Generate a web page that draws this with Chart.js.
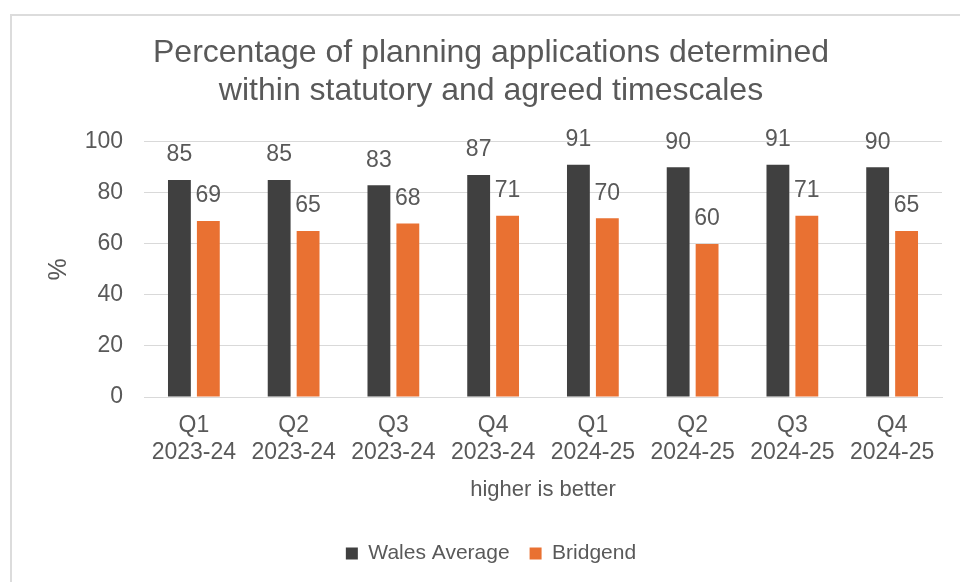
<!DOCTYPE html>
<html>
<head>
<meta charset="utf-8">
<script src="https://cdn.jsdelivr.net/npm/chart.js@4/dist/chart.umd.min.js"></script>
<style>
  html, body { margin: 0; padding: 0; background: #fff; overflow: hidden; }
  #wrap { position: relative; width: 960px; height: 582px; }
  #frame { position: absolute; left: 10px; top: 14px; width: 1000px; height: 700px;
           border-left: 2px solid #dcdcdc; border-top: 2px solid #dcdcdc; pointer-events: none; }
  canvas { position: absolute; left: 0; top: 0; }
</style>
</head>
<body>
<div id="wrap">
  <canvas id="c" width="960" height="582"></canvas>
  <div id="frame"></div>
</div>
<script>
const chartTitle = ["Percentage of planning applications determined", "within statutory and agreed timescales"];
const categories = [
  ["Q1", "2023-24"], ["Q2", "2023-24"], ["Q3", "2023-24"], ["Q4", "2023-24"],
  ["Q1", "2024-25"], ["Q2", "2024-25"], ["Q3", "2024-25"], ["Q4", "2024-25"]
];
const walesAverage = [85, 85, 83, 87, 91, 90, 91, 90];
const bridgend = [69, 65, 68, 71, 70, 60, 71, 65];
const yTicks = [0, 20, 40, 60, 80, 100];
const yAxisTitle = "%";
const xAxisTitle = "higher is better";

const FONT = "'Liberation Sans', Arial, sans-serif";
const TEXT = "#595959";
Chart.defaults.font.family = FONT;
Chart.defaults.color = TEXT;

const dataLabels = {
  id: 'dataLabels',
  afterDatasetsDraw(chart) {
    const ctx = chart.ctx;
    ctx.save();
    ctx.font = "23px " + FONT;
    ctx.fillStyle = TEXT;
    ctx.textAlign = 'center';
    ctx.textBaseline = 'middle';
    chart.data.datasets.forEach((ds, i) => {
      const meta = chart.getDatasetMeta(i);
      meta.data.forEach((el, j) => {
        ctx.fillText(String(ds.data[j]), el.x, el.y - 25);
      });
    });
    ctx.restore();
  }
};

new Chart(document.getElementById('c'), {
  type: 'bar',
  data: {
    labels: categories,
    datasets: [
      { label: 'Wales Average', data: walesAverage, backgroundColor: '#404040',
        categoryPercentage: 0.58, barPercentage: 0.79 },
      { label: 'Bridgend', data: bridgend, backgroundColor: '#E97132',
        categoryPercentage: 0.58, barPercentage: 0.79 }
    ]
  },
  options: {
    responsive: false,
    animation: false,
    devicePixelRatio: 1,
    layout: { padding: { left: 40, right: 18, top: 0, bottom: 8 } },
    plugins: {
      title: {
        display: true,
        text: chartTitle,
        color: TEXT,
        font: { size: 32, weight: 'normal', lineHeight: 1.2 },
        padding: { top: 34, bottom: 31 }
      },
      legend: {
        position: 'bottom',
        labels: {
          boxWidth: 12, boxHeight: 12, padding: 20,
          color: TEXT,
          font: { size: 21 }
        }
      },
      tooltip: { enabled: false }
    },
    scales: {
      x: {
        grid: { display: false, drawTicks: false },
        border: { display: true, color: '#d9d9d9', width: 1 },
        ticks: { color: TEXT, font: { size: 23, lineHeight: 1.17 }, padding: 15.5, maxRotation: 0 },
        title: { display: true, text: xAxisTitle, color: TEXT,
                 font: { size: 22, lineHeight: 1.2 }, padding: { top: 0, bottom: 20 } },
        afterFit(scale) { scale.height = 126; }
      },
      y: {
        min: 0, max: 100,
        afterBuildTicks(scale) { scale.ticks = yTicks.map(v => ({ value: v })); },
        grid: { color: '#d9d9d9', drawTicks: false },
        border: { display: false },
        ticks: { color: TEXT, font: { size: 23 }, padding: 21 },
        title: { display: true, text: yAxisTitle, color: TEXT,
                 font: { size: 25, lineHeight: 1.2 }, padding: { top: 4, bottom: 0 } },
        afterFit(scale) { scale.width = 104; }
      }
    }
  },
  plugins: [dataLabels]
});
</script>
</body>
</html>
